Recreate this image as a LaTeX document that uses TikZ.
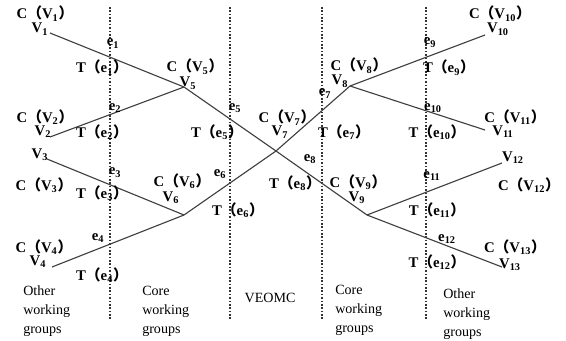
\documentclass[tikz,border=0pt]{standalone}
\usepackage{fontspec}
\setmainfont{Liberation Serif}
\newfontfamily\cjk{Noto Sans CJK SC}
\usetikzlibrary{positioning}

\newcommand{\cpar}[1]{{\cjk （}#1{\cjk ）}}
\newcommand{\Cof}[1]{C\cpar{V\textsubscript{#1}}}
\newcommand{\Tof}[1]{T\cpar{e\textsubscript{#1}}}

\begin{document}
\begin{tikzpicture}[
    x=0.025cm, y=-0.025cm,
    edge/.style={draw=black!75, line width=0.8pt},
    sep/.style={draw=black!80, line width=1.1pt, dash pattern=on 1.1pt off 1.3pt},
    lbl/.style={anchor=base, inner sep=0pt, font=\fontsize{10.5}{12}\selectfont\bfseries},
    grp/.style={anchor=west, align=left, inner sep=0pt, font=\fontsize{10}{13.5}\selectfont}
]
\useasboundingbox (0,0) rectangle (566,341);

% Separators
\foreach \i/\x in {1/110, 2/230, 3/322, 4/426} {
    \coordinate (s\i t) at (\x,7);
    \coordinate (s\i b) at (\x,320);
    \draw[sep] (s\i t) -- (s\i b);
}

% Vertices
\coordinate (v1) at (50,33);
\coordinate (v2) at (50,137);
\coordinate (v3) at (47,159);
\coordinate (v4) at (52,267);
\coordinate (v5) at (184,87);
\coordinate (v6) at (184,215);
\coordinate (v7) at (276,151);
\coordinate (v8) at (350,86);
\coordinate (v9) at (367,215);
\coordinate (v10) at (485,35);
\coordinate (v11) at (485,130);
\coordinate (v12) at (502,163);
\coordinate (v13) at (502,267);

% Vertex labels
\node[lbl] (cv1) at (45,19) {\Cof{1}};
\node[lbl] (cv2) at (45,122) {\Cof{2}};
\node[lbl] (cv3) at (44,190) {\Cof{3}};
\node[lbl] (cv4) at (44,252) {\Cof{4}};
\node[lbl] (cv5) at (195,72) {\Cof{5}};
\node[lbl] (cv6) at (182,186) {\Cof{6}};
\node[lbl] (cv7) at (287,123) {\Cof{7}};
\node[lbl] (cv8) at (359,71) {\Cof{8}};
\node[lbl] (cv9) at (358,187) {\Cof{9}};
\node[lbl] (cv10) at (500,19) {\Cof{10}};
\node[lbl] (cv11) at (515,122) {\Cof{11}};
\node[lbl] (cv12) at (529,190) {\Cof{12}};
\node[lbl] (cv13) at (515,252) {\Cof{13}};

\node[lbl] (vl1) at (40,33) {V\textsubscript{1}};
\node[lbl] (vl2) at (43,135) {V\textsubscript{2}};
\node[lbl] (vl3) at (40,158) {V\textsubscript{3}};
\node[lbl] (vl4) at (38,265) {V\textsubscript{4}};
\node[lbl] (vl5) at (188,87) {V\textsubscript{5}};
\node[lbl] (vl6) at (171,201) {V\textsubscript{6}};
\node[lbl] (vl7) at (280,136) {V\textsubscript{7}};
\node[lbl] (vl8) at (340,85) {V\textsubscript{8}};
\node[lbl] (vl9) at (357,201) {V\textsubscript{9}};
\node[lbl] (vl10) at (498,33) {V\textsubscript{10}};
\node[lbl] (vl11) at (503,135) {V\textsubscript{11}};
\node[lbl] (vl12) at (513,161) {V\textsubscript{12}};
\node[lbl] (vl13) at (510,268) {V\textsubscript{13}};

% Edges
\draw[edge] (v1) -- (v5);
\draw[edge] (v2) -- (v5);
\draw[edge] (v3) -- (v6);
\draw[edge] (v4) -- (v6);
\draw[edge] (v5) -- (v7);
\draw[edge] (v6) -- (v7);
\draw[edge] (v7) -- (v8);
\draw[edge] (v7) -- (v9);
\draw[edge] (v8) -- (v10);
\draw[edge] (v8) -- (v11);
\draw[edge] (v9) -- (v12);
\draw[edge] (v9) -- (v13);

% Edge labels
\foreach \i/\x/\y in {1/113/46, 2/115/110, 3/115/175, 4/98/240, 5/235/110, 6/220/176,
                      7/325/96, 8/310/161, 9/430/45, 10/433/110, 11/432/178, 12/447/241}
    \node[lbl] (e\i) at (\x,\y) {e\textsubscript{\i}};
\foreach \i/\x/\y in {1/102/73, 2/102/137, 3/102/198, 4/102/280, 5/217/137, 6/238/215,
                      7/344/137, 8/295/188, 9/449/73, 10/437/137, 11/437/215, 12/437/267}
    \node[lbl] (t\i) at (\x,\y) {\Tof{\i}};

% Groups
\node[grp] (other1) at (23,311) {Other\\working\\groups};
\node[grp] (core1) at (142,311) {Core\\working\\groups};
\node[grp, anchor=center] (veomc) at (270,298) {VEOMC};
\node[grp] (core2) at (335,310) {Core\\working\\groups};
\node[grp] (other2) at (443,314) {Other\\working\\groups};

\end{tikzpicture}
\end{document}
